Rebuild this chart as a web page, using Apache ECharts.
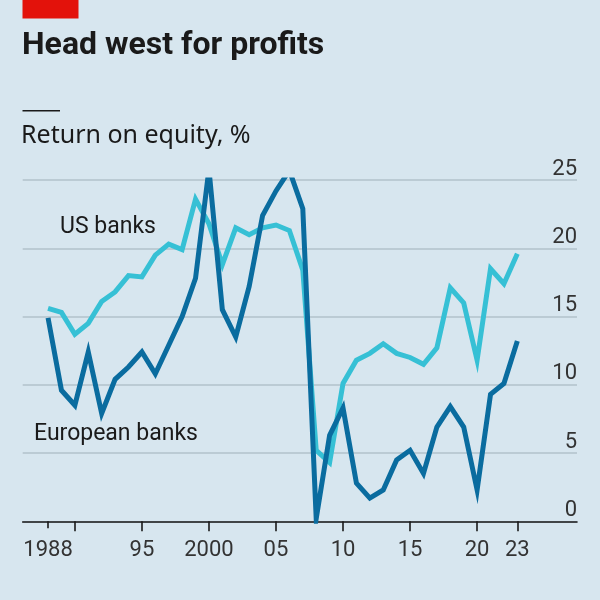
<!DOCTYPE html>
<html>
<head>
<meta charset="utf-8">
<script src="https://cdn.jsdelivr.net/npm/echarts@6/dist/echarts.min.js"></script>
<style>
html,body{margin:0;padding:0;background:#d7e6ef;}
#c{width:600px;height:600px;}
</style>
</head>
<body>
<div id="c"></div>
<script>
const years = [1988,1989,1990,1991,1992,1993,1994,1995,1996,1997,1998,1999,2000,2001,2002,2003,2004,2005,2006,2007,2008,2009,2010,2011,2012,2013,2014,2015,2016,2017,2018,2019,2020,2021,2022,2023];
const usBanks = [15.6,15.3,13.7,14.5,16.1,16.8,18.0,17.9,19.5,20.3,19.9,23.6,21.8,18.8,21.5,21.0,21.5,21.7,21.3,18.4,5.2,4.3,10.1,11.8,12.3,13.0,12.3,12.0,11.5,12.7,17.1,16.0,11.8,18.5,17.4,19.6];
const euBanks = [14.9,9.6,8.5,12.4,7.9,10.4,11.3,12.4,10.8,12.9,15.0,17.8,25.8,15.5,13.5,17.2,22.4,24.2,25.7,22.9,0.2,6.3,8.3,2.8,1.7,2.3,4.5,5.2,3.5,6.9,8.4,6.9,2.3,9.3,10.1,13.2];
const xTicks = [1990,1995,2000,2005,2010,2015,2020,2023];
const xFirstTick = [1988];
const xTickLabels = {1988:'1988',1995:'95',2000:'2000',2005:'05',2010:'10',2015:'15',2020:'20',2023:'23'};

const FONT = 'Roboto';
const chart = echarts.init(document.getElementById('c'), null, {renderer:'canvas'});
chart.setOption({
  backgroundColor:'#d7e6ef',
  animation:false,
  title:[
    {text:'Head west for profits', left:17, top:25, textStyle:{fontFamily:FONT, fontWeight:'bold', fontSize:32, color:'#1a1a1a'}},
    {text:'Return on equity, %', left:16, top:118, textStyle:{fontFamily:'Noto Sans', fontWeight:'normal', fontSize:25, color:'#1a1a1a'}}
  ],
  graphic:[
    {type:'rect', shape:{x:22.5, y:0, width:56, height:18.5}, style:{fill:'#e3120b'}},
    {type:'rect', shape:{x:22.5, y:110, width:37.5, height:1.6}, style:{fill:'#1a1a1a'}},
    {type:'text', left:60, top:216, style:{text:'US banks', fontFamily:FONT, fontSize:23, fill:'#1a1a1a'}},
    {type:'text', left:34, top:423, style:{text:'European banks', fontFamily:FONT, fontSize:23, fill:'#1a1a1a'}}
  ],
  grid:{left:22.7, right:23, top:180, bottom:78.7, containLabel:false},
  xAxis:[{
    type:'value', min:1986.11, max:2027.45,
    splitLine:{show:false},
    axisLine:{show:true, lineStyle:{color:'#1a1a1a', width:1.6}},
    axisTick:{show:true, customValues:xTicks, length:10, lineStyle:{color:'#1a1a1a', width:1.6}},
    axisLabel:{customValues:Object.keys(xTickLabels).map(Number), formatter:v=>xTickLabels[v]||'', margin:18, fontFamily:FONT, fontSize:22, color:'#333'}
  },{
    type:'value', min:1986.11, max:2027.45, position:'bottom',
    splitLine:{show:false},
    axisLine:{show:false},
    axisTick:{show:true, customValues:xFirstTick, length:7, lineStyle:{color:'#1a1a1a', width:1.6}},
    axisLabel:{show:false}
  }],
  yAxis:{
    type:'value', position:'right', min:0, max:25, interval:5,
    axisLine:{show:false}, axisTick:{show:false},
    splitLine:{show:true, lineStyle:{color:'#b2c2cb', width:1.6}},
    axisLabel:{inside:true, margin:0, verticalAlign:'bottom', padding:[0,0,0,0], fontFamily:FONT, fontSize:22, color:'#333'}
  },
  series:[
    {name:'US banks', type:'line', data:years.map((y,i)=>[y,usBanks[i]]), symbol:'none', lineStyle:{color:'#36c0d5', width:5, join:'miter'}, z:2},
    {name:'European banks', type:'line', data:years.map((y,i)=>[y,euBanks[i]]), symbol:'none', lineStyle:{color:'#0a6c9f', width:5, join:'miter'}, z:3}
  ]
});
</script>
</body>
</html>
